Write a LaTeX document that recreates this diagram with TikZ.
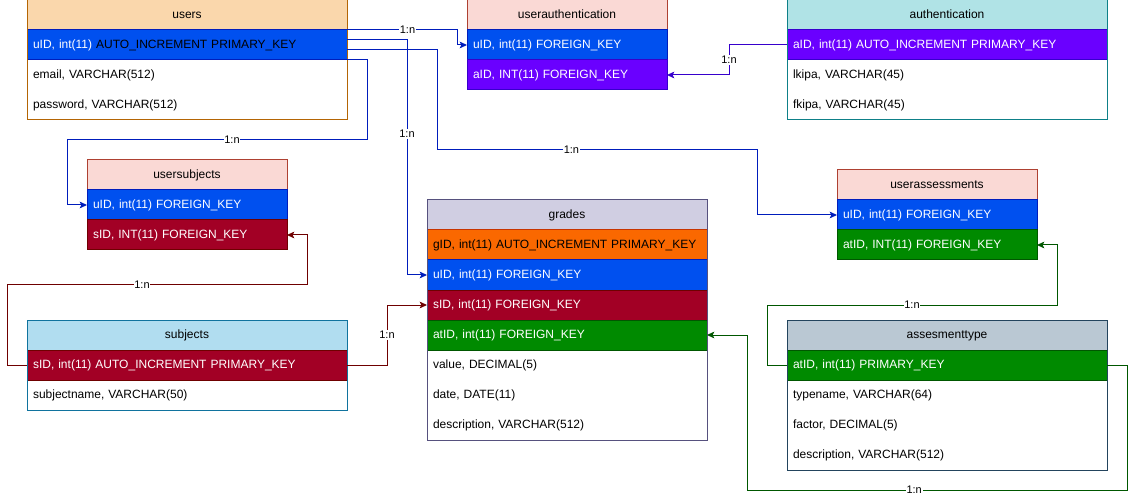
\documentclass[tikz,border=0pt]{standalone}
\usepackage{fontspec}
\setmainfont{Liberation Sans}
\usetikzlibrary{positioning,arrows.meta}

\definecolor{bluF}{HTML}{0050EF}\definecolor{bluS}{HTML}{001DBC}
\definecolor{purF}{HTML}{6A00FF}\definecolor{purS}{HTML}{3700CC}
\definecolor{redF}{HTML}{A20025}\definecolor{redS}{HTML}{6F0000}
\definecolor{grnF}{HTML}{008A00}\definecolor{grnS}{HTML}{005700}
\definecolor{oraF}{HTML}{FA6800}\definecolor{oraS}{HTML}{C73500}
\definecolor{usrF}{HTML}{FAD7AC}\definecolor{usrS}{HTML}{B46504}
\definecolor{linkF}{HTML}{FAD9D5}\definecolor{linkS}{HTML}{AE4132}
\definecolor{authF}{HTML}{B0E3E6}\definecolor{authS}{HTML}{0E8088}
\definecolor{subjF}{HTML}{B1DDF0}\definecolor{subjS}{HTML}{10739E}
\definecolor{grdF}{HTML}{D0CEE2}\definecolor{grdS}{HTML}{56517E}
\definecolor{atF}{HTML}{BAC8D3}\definecolor{atS}{HTML}{23445D}

\tikzset{
  tab/.style={inner xsep=4.5pt, inner ysep=0pt, outer sep=0pt, minimum height=22.5pt,
    text height=6.5pt, text depth=1.5pt,
    align=left, line width=0.75pt, font=\fontsize{9}{11}\selectfont},
  hdr/.style 2 args={tab, align=center, anchor=north west, fill=#1, draw=#2},
  w320/.style={text width=231pt},
  w280/.style={text width=201pt},
  w200/.style={text width=141pt},
  kblu/.style={fill=bluF, draw=bluS, text=white},
  kpur/.style={fill=purF, draw=purS, text=white},
  kred/.style={fill=redF, draw=redS, text=white},
  kgrn/.style={fill=grnF, draw=grnS, text=white},
  kora/.style={fill=oraF, draw=oraS, text=black},
  fk/.style={draw=#1, line width=0.75pt, -{Stealth[length=5.5pt, width=5pt, inset=1.2pt]}},
  lbl/.style={fill=white, inner sep=0.6pt, text=black, font=\fontsize{8.25}{9}\selectfont}
}

\begin{document}
\begin{tikzpicture}[x=0.75pt, y=-0.75pt]
  \useasboundingbox (0,0) rectangle (1136,499);

  % Tabella users
  \node[hdr={usrF}{usrS}, w320] (users) at (27,0) {users};
  \node[tab, w320, kblu, below=0pt of users] (users-uid) {uID, int(11) \textcolor{black}{AUTO\_INCREMENT PRIMARY\_KEY}};
  \node[tab, w320, below=0pt of users-uid] (users-email) {email, VARCHAR(512)};
  \node[tab, w320, below=0pt of users-email] (users-pwd) {password, VARCHAR(512)};
  \draw[usrS, line width=0.75pt] (users.north west) rectangle (users-pwd.south east);

  % Tabella userauthentication
  \node[hdr={linkF}{linkS}, w200] (ua) at (467,0) {userauthentication};
  \node[tab, w200, kblu, below=0pt of ua] (ua-uid) {uID, int(11) FOREIGN\_KEY};
  \node[tab, w200, kpur, below=0pt of ua-uid] (ua-aid) {aID, INT(11) FOREIGN\_KEY};

  % Tabella authentication
  \node[hdr={authF}{authS}, w320] (auth) at (787,0) {authentication};
  \node[tab, w320, kpur, below=0pt of auth] (auth-aid) {aID, int(11) AUTO\_INCREMENT PRIMARY\_KEY};
  \node[tab, w320, below=0pt of auth-aid] (auth-lk) {lkipa, VARCHAR(45)};
  \node[tab, w320, below=0pt of auth-lk] (auth-fk) {fkipa, VARCHAR(45)};
  \draw[authS, line width=0.75pt] (auth.north west) rectangle (auth-fk.south east);

  % Tabella usersubjects
  \node[hdr={linkF}{linkS}, w200] (us) at (87,160) {usersubjects};
  \node[tab, w200, kblu, below=0pt of us] (us-uid) {uID, int(11) FOREIGN\_KEY};
  \node[tab, w200, kred, below=0pt of us-uid] (us-sid) {sID, INT(11) FOREIGN\_KEY};

  % Tabella subjects
  \node[hdr={subjF}{subjS}, w320] (subj) at (27,320) {subjects};
  \node[tab, w320, kred, below=0pt of subj] (subj-sid) {sID, int(11) AUTO\_INCREMENT PRIMARY\_KEY};
  \node[tab, w320, below=0pt of subj-sid] (subj-name) {subjectname, VARCHAR(50)};
  \draw[subjS, line width=0.75pt] (subj.north west) rectangle (subj-name.south east);

  % Tabella grades
  \node[hdr={grdF}{grdS}, w280] (grd) at (427,200) {grades};
  \node[tab, w280, kora, below=0pt of grd] (grd-gid) {gID, int(11) AUTO\_INCREMENT PRIMARY\_KEY};
  \node[tab, w280, kblu, below=0pt of grd-gid] (grd-uid) {uID, int(11) FOREIGN\_KEY};
  \node[tab, w280, kred, below=0pt of grd-uid] (grd-sid) {sID, int(11) FOREIGN\_KEY};
  \node[tab, w280, kgrn, below=0pt of grd-sid] (grd-atid) {atID, int(11) FOREIGN\_KEY};
  \node[tab, w280, below=0pt of grd-atid] (grd-val) {value, DECIMAL(5)};
  \node[tab, w280, below=0pt of grd-val] (grd-date) {date, DATE(11)};
  \node[tab, w280, below=0pt of grd-date] (grd-desc) {description, VARCHAR(512)};
  \draw[grdS, line width=0.75pt] (grd.north west) rectangle (grd-desc.south east);

  % Tabella userassessments
  \node[hdr={linkF}{linkS}, w200] (uas) at (837,170) {userassessments};
  \node[tab, w200, kblu, below=0pt of uas] (uas-uid) {uID, int(11) FOREIGN\_KEY};
  \node[tab, w200, kgrn, below=0pt of uas-uid] (uas-atid) {atID, INT(11) FOREIGN\_KEY};

  % Tabella assesmenttype
  \node[hdr={atF}{atS}, w320] (at) at (787,320) {assesmenttype};
  \node[tab, w320, kgrn, below=0pt of at] (at-atid) {atID, int(11) PRIMARY\_KEY};
  \node[tab, w320, below=0pt of at-atid] (at-name) {typename, VARCHAR(64)};
  \node[tab, w320, below=0pt of at-name] (at-fac) {factor, DECIMAL(5)};
  \node[tab, w320, below=0pt of at-fac] (at-desc) {description, VARCHAR(512)};
  \draw[atS, line width=0.75pt] (at.north west) rectangle (at-desc.south east);

  % Relazioni 1:n
  \draw[fk=bluS] (users-uid.north east) -- node[lbl, pos=0.55]{1:n} ++(110,0) |- (ua-uid.west);
  \draw[fk=bluS] ([yshift=3.75pt]users-uid.east) -- ++(60,0) |- node[lbl, pos=0.2]{1:n} (grd-uid.west);
  \draw[fk=bluS] ([yshift=-3.75pt]users-uid.east) -- ++(90,0) -- ++(0,100)
    -- node[lbl, pos=0.42]{1:n} ++(320,0) |- (uas-uid.west);
  \draw[fk=bluS] (users-uid.south east) -- ++(20,0) -- ++(0,80)
    -- node[lbl, pos=0.45]{1:n} ++(-300,0) |- (us-uid.west);
  \draw[fk=purS] (auth-aid.west) -- ++(-58,0) |- node[lbl, pos=0.25]{1:n} (ua-aid.east);
  \draw[fk=redS] (subj-sid.west) -- ++(-20,0) -- ++(0,-80)
    -- node[lbl, pos=0.45]{1:n} ++(300,0) |- (us-sid.east);
  \draw[fk=redS] (subj-sid.east) -- ++(40,0) |- node[lbl, pos=0.25]{1:n} (grd-sid.west);
  \draw[fk=grnS] (at-atid.west) -- ++(-20,0) -- ++(0,-60)
    -- node[lbl, pos=0.5]{1:n} ++(290,0) |- (uas-atid.east);
  \draw[fk=grnS] (at-atid.east) -- ++(20,0) -- ++(0,125)
    -- node[lbl, pos=0.56]{1:n} ++(-380,0) |- (grd-atid.east);
\end{tikzpicture}
\end{document}
